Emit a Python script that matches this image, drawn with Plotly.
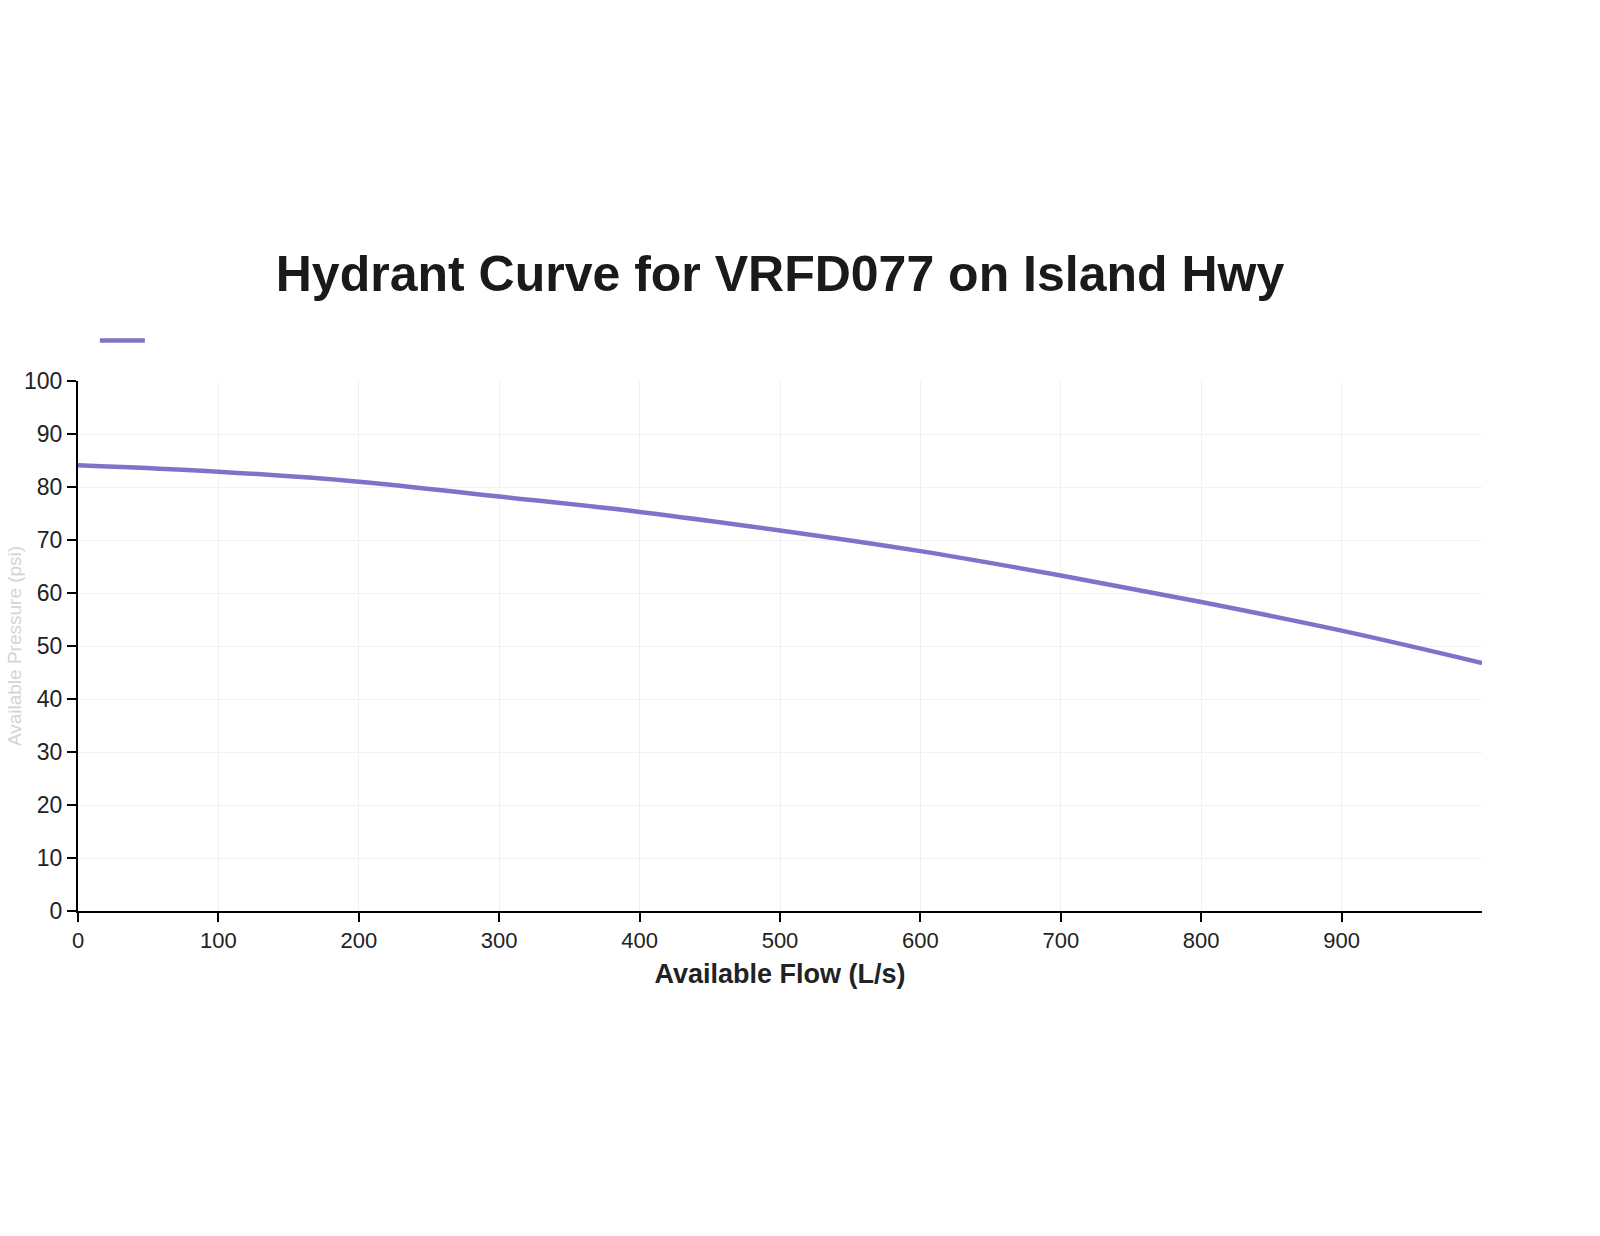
import plotly.graph_objects as go

flow = [0, 100, 200, 300, 400, 500, 600, 700, 800, 900, 1000]
pressure = [84.1, 82.9, 81.0, 78.2, 75.3, 71.8, 67.9, 63.3, 58.3, 52.9, 46.8]

x_ticks = [0, 100, 200, 300, 400, 500, 600, 700, 800, 900]
y_ticks = [0, 10, 20, 30, 40, 50, 60, 70, 80, 90, 100]

fig = go.Figure()
fig.add_trace(go.Scatter(
    x=flow, y=pressure, mode="lines", name=" ",
    line=dict(color="#7f73c9", width=4.5, shape="spline"),
    showlegend=True,
))

fig.update_layout(
    width=1600, height=1236,
    paper_bgcolor="white", plot_bgcolor="white",
    margin=dict(l=78, r=118, t=381, b=325, autoexpand=False),
    title=dict(
        text="<b>Hydrant Curve for VRFD077 on Island Hwy</b>",
        x=0.5, xref="paper", xanchor="center",
        y=1 - 273 / 1236, yanchor="middle",
        font=dict(family="Liberation Sans, Arial", size=50, color="#1a1a1a"),
    ),
    showlegend=True,
    legend=dict(x=0.012, y=1.0755, xanchor="left", yanchor="middle",
                font=dict(size=14), itemwidth=45, bgcolor="rgba(0,0,0,0)"),
    font=dict(family="Liberation Sans, Arial", color="#222222"),
    annotations=[dict(
        text="Available Pressure (psi)", textangle=-90,
        xref="paper", yref="paper", x=-0.0455, y=0.5,
        xanchor="center", yanchor="middle", showarrow=False,
        font=dict(size=19, color="#d4d4d4"),
    )],
)

fig.update_xaxes(
    range=[0, 1000], tickvals=x_ticks, ticktext=[str(v) for v in x_ticks],
    showline=True, linecolor="black", linewidth=2,
    ticks="outside", ticklen=9, tickwidth=2, tickcolor="black",
    showgrid=True, gridcolor="#f1f1f1", gridwidth=1, zeroline=False,
    tickfont=dict(size=22, color="#222222"), automargin=False,
    title=dict(text="<b>Available Flow (L/s)</b>", standoff=12,
               font=dict(size=27, color="#222222")),
)
fig.update_yaxes(
    range=[0, 100], tickvals=y_ticks, ticktext=[str(v) for v in y_ticks],
    showline=True, linecolor="black", linewidth=2,
    ticks="outside", ticklen=9, tickwidth=2, tickcolor="black",
    showgrid=True, gridcolor="#f1f1f1", gridwidth=1, zeroline=False,
    tickfont=dict(size=23, color="#222222"), automargin=False,
)

fig.write_html("out.html")
